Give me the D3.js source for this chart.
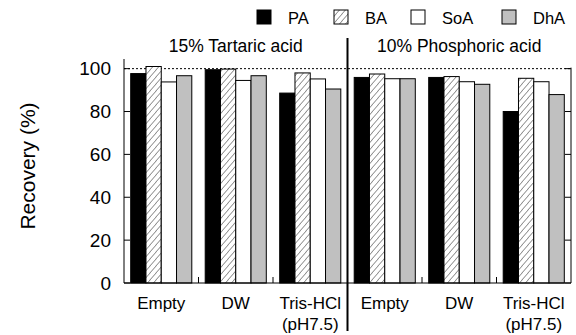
<!DOCTYPE html>
<html><head><meta charset="utf-8">
<script src="https://cdn.jsdelivr.net/npm/d3@7"></script>
<style>body{margin:0;background:#fff}svg{display:block;font-family:"Liberation Sans",Arial,sans-serif}</style>
</head><body><div id="c"></div>
<script>
const panels = ["15% Tartaric acid", "10% Phosphoric acid"];
const conditions = ["Empty", "DW", "Tris-HCl\n(pH7.5)"];
const series = ["PA", "BA", "SoA", "DhA"];
const PA  = [97.7, 99.5, 88.6, 95.9, 95.9, 80.0];
const BA  = [101.0, 99.8, 98.0, 97.5, 96.3, 95.5];
const SoA = [93.8, 94.5, 95.2, 95.3, 93.9, 93.9];
const DhA = [96.7, 96.7, 90.5, 95.3, 92.7, 87.9];
const yTicks = [0, 20, 40, 60, 80, 100];

const W = 576, H = 335;
const m = {l: 124, r: 5, t: 59, b: 52};
const svg = d3.select("#c").append("svg").attr("width", W).attr("height", H);

const defs = svg.append("defs");
const pat = defs.append("pattern").attr("id", "hatch").attr("patternUnits", "userSpaceOnUse")
  .attr("width", 6).attr("height", 7);
pat.append("rect").attr("width", 6).attr("height", 7).attr("fill", "#fff");
pat.append("path").attr("d", "M-1,8 L7,-1 M-7,8 L1,-1 M5,8 L13,-1").attr("stroke", "#444").attr("stroke-width", 0.7);

const fills = {PA: "#000", BA: "url(#hatch)", SoA: "#fff", DhA: "#c0c0c0"};
const vals = {PA, BA, SoA, DhA};

const groups = [];
panels.forEach((p, pi) => conditions.forEach((c, ci) => groups.push(pi * 3 + ci)));

const x0 = d3.scaleBand().domain(groups).range([m.l, W - m.r]).padding(0);
const bw = x0.bandwidth();
const x1 = d3.scaleBand().domain(series).range([bw * 0.09, bw * 0.91]).padding(0);
const y = d3.scaleLinear().domain([0, 104.5]).range([H - m.b, m.t]);

// dotted 100 line
svg.append("line").attr("x1", m.l).attr("x2", W - m.r).attr("y1", y(100)).attr("y2", y(100))
  .attr("stroke", "#000").attr("stroke-width", 1).attr("stroke-dasharray", "2,2");

// bars
const g = svg.append("g");
groups.forEach(gi => {
  series.forEach(s => {
    const v = vals[s][gi];
    g.append("rect")
      .attr("x", x0(gi) + x1(s))
      .attr("y", y(v))
      .attr("width", x1.bandwidth())
      .attr("height", y(0) - y(v))
      .attr("fill", fills[s])
      .attr("stroke", "#000").attr("stroke-width", 1);
  });
});

// left axis
const yAxis = d3.axisLeft(y).tickValues(yTicks).tickSize(0).tickPadding(13);
const ya = svg.append("g").attr("transform", `translate(${m.l},0)`).call(yAxis);
ya.select(".domain").remove();
ya.selectAll("text").attr("font-size", 19).attr("fill", "#000").attr("font-family", "Liberation Sans, Arial");
svg.append("line").attr("x1", m.l).attr("x2", m.l).attr("y1", m.t).attr("y2", y(0)).attr("stroke", "#000");
svg.selectAll(".ltick").data(yTicks).enter().append("line")
  .attr("x1", m.l).attr("x2", m.l + 6).attr("y1", d => y(d)).attr("y2", d => y(d)).attr("stroke", "#000");

// right axis
const rx = W - m.r;
svg.append("line").attr("x1", rx).attr("x2", rx).attr("y1", y(100) - 1).attr("y2", y(0)).attr("stroke", "#000");
svg.selectAll(".rtick").data(yTicks).enter().append("line")
  .attr("x1", rx - 6).attr("x2", rx).attr("y1", d => y(d)).attr("y2", d => y(d)).attr("stroke", "#000");

// bottom axis
svg.append("line").attr("x1", m.l).attr("x2", rx).attr("y1", y(0)).attr("y2", y(0)).attr("stroke", "#000");
groups.slice(1).forEach(gi => {
  if (gi === 3) return;
  svg.append("line").attr("x1", x0(gi)).attr("x2", x0(gi)).attr("y1", y(0)).attr("y2", y(0) - 6).attr("stroke", "#000");
});

// divider
const midX = x0(3);
svg.append("line").attr("x1", midX).attr("x2", midX).attr("y1", 38).attr("y2", H - 4)
  .attr("stroke", "#000").attr("stroke-width", 2);

// x labels
groups.forEach(gi => {
  const lines = conditions[gi % 3].split("\n");
  const t = svg.append("text").attr("text-anchor", "middle").attr("font-size", 17)
    .attr("x", x0(gi) + bw / 2).attr("y", 309);
  lines.forEach((ln, i) => t.append("tspan").attr("x", x0(gi) + bw / 2).attr("dy", i ? 21 : 0).text(ln));
});

// panel titles
panels.forEach((p, pi) => {
  svg.append("text").attr("text-anchor", "middle").attr("font-size", 17.5)
    .attr("x", x0(pi * 3) + bw * 1.5).attr("y", 52).text(p);
});

// y label
svg.append("text").attr("text-anchor", "middle").attr("font-size", 21)
  .attr("transform", `translate(35,${(m.t + y(0)) / 2 - 5}) rotate(-90)`).text("Recovery (%)");

// legend
const legX = [257, 334, 411, 502];
series.forEach((s, i) => {
  svg.append("rect").attr("x", legX[i]).attr("y", 10).attr("width", 14).attr("height", 14)
    .attr("fill", fills[s]).attr("stroke", "#000").attr("stroke-width", 1);
  svg.append("text").attr("x", legX[i] + 31).attr("y", 24).attr("font-size", 16.5).text(s);
});
</script></body></html>
